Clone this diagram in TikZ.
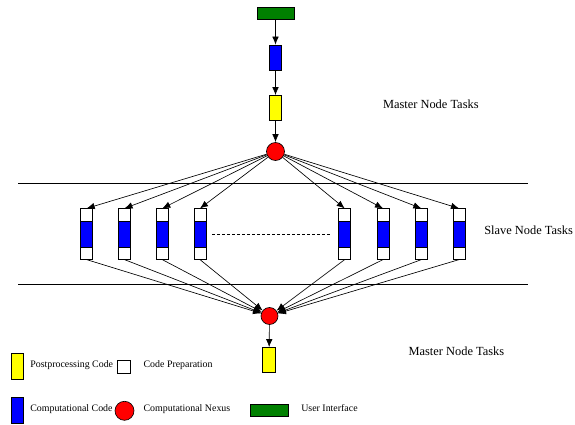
\documentclass[tikz,border=0pt]{standalone}
\usepackage{fontspec}
\setmainfont{Liberation Serif}
\usetikzlibrary{arrows.meta,positioning}
\definecolor{uigreen}{HTML}{008000}
\definecolor{compblue}{HTML}{0000FF}
\definecolor{postyellow}{HTML}{FFFF00}
\definecolor{nexusred}{HTML}{FF0000}

\begin{document}
\begin{tikzpicture}[
      x=1pt,y=-1pt,
      >={Latex[length=8pt,width=6.5pt]},
      line width=0.65pt,
      uibox/.style={draw,fill=uigreen,inner sep=0,minimum width=37pt,minimum height=12pt},
      compbox/.style={draw,fill=compblue,inner sep=0,minimum width=12.5pt,minimum height=25pt},
      postbox/.style={draw,fill=postyellow,inner sep=0,minimum width=12.5pt,minimum height=25pt},
      prepbox/.style={draw,fill=white,inner sep=0,minimum size=13pt},
      nexus/.style={circle,draw,fill=nexusred,inner sep=0,minimum size=18pt},
      slave/.style={draw,fill=white,inner sep=0,minimum width=12pt,minimum height=50.6pt,
        path picture={\draw[fill=compblue] ([yshift=12.85pt]path picture bounding box.west)
          rectangle ([yshift=-12.85pt]path picture bounding box.east);}},
      label/.style={font=\fontsize{12.4}{14}\selectfont,inner sep=0,anchor=base west},
      legend/.style={font=\fontsize{9.9}{12}\selectfont,inner sep=0,anchor=base west}
    ]
    \useasboundingbox (0,0) rectangle (575,425);

    \node[uibox] (ui) at (275.5,13) {};
    \node[compbox] (comp) at (275.5,57.5) {};
    \node[postbox] (post) at (275.5,108) {};
    \node[nexus] (top) at (275.5,151.5) {};
    \draw[->] (ui) -- (comp);
    \draw[->] (comp) -- (post);
    \draw[->] (post) -- (top);

    \draw (18,183.5) -- (528,183.5);
    \draw (18,284) -- (528,284);

    \node[nexus,minimum size=17pt] (bot) at (269.5,316) {};
    \node[postbox] (post2) at (269,360) {};
    \draw[->] (bot) -- (post2);

    \foreach \x [count=\i] in {86.7,124.5,162.3,200,344.7,383,421.3,459} {
      \node[slave] (s\i) at (\x,234) {};
      \draw[->] (top) -- (s\i.north);
      \draw[->] (s\i.south) -- (bot);
    }
    \draw[dash pattern=on 3pt off 2pt] ([xshift=6pt]s4.east) -- ([xshift=-8pt]s5.west);

    \node[label] (mastertop) at (382.7,108.3) {Master Node Tasks};
    \node[label] (slavelbl) at (484,234) {Slave Node Tasks};
    \node[label] (masterbot) at (408.3,355) {Master Node Tasks};

    \node[postbox,minimum width=12pt,minimum height=26pt] (legpost) at (17,366) {};
    \node[legend] at (30,367.5) {Postprocessing Code};
    \node[prepbox] (legprep) at (124,366.7) {};
    \node[legend] at (143.3,367.5) {Code Preparation};
    \node[compbox,minimum width=12pt,minimum height=26pt] (legcomp) at (17,410.5) {};
    \node[legend] at (30,411) {Computational Code};
    \node[nexus,minimum size=19pt] (legnexus) at (124.5,410.8) {};
    \node[legend] at (143.3,411) {Computational Nexus};
    \node[uibox,minimum width=37.6pt,minimum height=12.4pt] (legui) at (269.5,410.5) {};
    \node[legend] at (301,411) {User Interface};
  \end{tikzpicture}
\end{document}
